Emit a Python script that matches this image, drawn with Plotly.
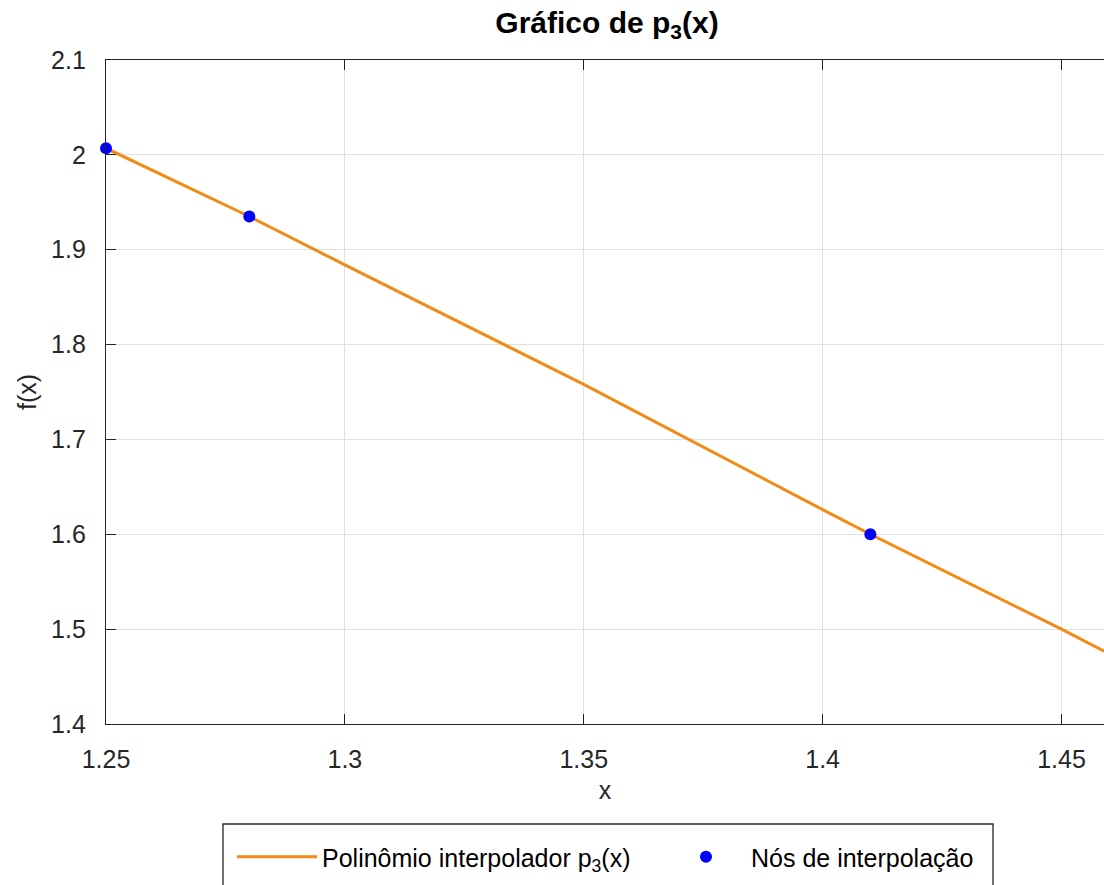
import plotly.graph_objects as go

# ---- data ----
poly_x = [1.25, 1.28, 1.30, 1.35, 1.40, 1.41, 1.45, 1.46]
poly_y = [2.007, 1.935, 1.884, 1.758, 1.626, 1.600, 1.500, 1.474]
node_x = [1.25, 1.28, 1.41, 1.46]
node_y = [2.007, 1.935, 1.600, 1.474]

x_ticks = [1.25, 1.30, 1.35, 1.40, 1.45]
y_ticks = [1.4, 1.5, 1.6, 1.7, 1.8, 1.9, 2.0, 2.1]

FONT = "Liberation Sans, Arial, Helvetica, sans-serif"
AX = "#262626"
GRID = "#e0e0e0"

fig = go.Figure()
fig.add_trace(go.Scatter(
    x=poly_x, y=poly_y, mode="lines",
    name="Polinômio interpolador p<sub>3</sub>(x)",
    line=dict(color="#f28a14", width=3),
))
fig.add_trace(go.Scatter(
    x=node_x, y=node_y, mode="markers",
    name="Nós de interpolação",
    marker=dict(color="#0000ff", size=12),
    cliponaxis=False,
))

fig.update_layout(
    width=1104, height=885,
    margin=dict(l=106, r=0, t=60, b=161),
    paper_bgcolor="white", plot_bgcolor="white",
    font=dict(family=FONT, size=25, color=AX),
    title=dict(
        text="<b>Gráfico de p<sub>3</sub>(x)</b>",
        x=607 / 1104, xanchor="center", xref="container",
        y=(885 - 22) / 885, yanchor="middle", yref="container",
        font=dict(family=FONT, size=30, color="black"),
    ),
    xaxis=dict(
        range=[1.25, 1.4589], tickvals=x_ticks,
        showgrid=True, gridcolor=GRID, gridwidth=1,
        showline=True, linecolor=AX, linewidth=1.3, mirror="ticks",
        ticks="inside", ticklen=10, tickcolor=AX, tickwidth=1.3,
        ticklabelstandoff=13,
        zeroline=False,
        title=dict(text="x", standoff=9, font=dict(size=25, color=AX)),
    ),
    yaxis=dict(
        range=[1.4, 2.1], tickvals=y_ticks,
        showgrid=True, gridcolor=GRID, gridwidth=1,
        showline=True, linecolor=AX, linewidth=1.3, mirror=False,
        ticks="inside", ticklen=10, tickcolor=AX, tickwidth=1.3,
        ticklabelstandoff=14,
        zeroline=False,
        title=dict(text="f(x)", standoff=7, font=dict(size=25, color=AX)),
    ),
    yaxis2=dict(
        range=[1.4, 2.1], tickvals=y_ticks, overlaying="y", side="right",
        anchor="x", showgrid=False, showline=False, zeroline=False,
        ticks="inside", ticklen=5, tickcolor=AX, tickwidth=1.3,
        showticklabels=False,
    ),
    showlegend=True,
    legend=dict(
        orientation="h",
        x=(232 - 106) / 998, xanchor="left",
        y=(724 - 857) / 664, yanchor="middle",
        bgcolor="rgba(0,0,0,0)", borderwidth=0,
        font=dict(family=FONT, size=25, color="black"),
        itemwidth=80,
        entrywidth=334,
    ),
    shapes=[dict(
        type="rect", xref="paper", yref="paper",
        x0=(223 - 106) / 998, x1=(993 - 106) / 998,
        y0=(724 - 824) / 664, y1=(724 - 900) / 664,
        line=dict(color=AX, width=1.3), fillcolor="rgba(0,0,0,0)",
        layer="above",
    )],
)

fig.write_html("out.html")
